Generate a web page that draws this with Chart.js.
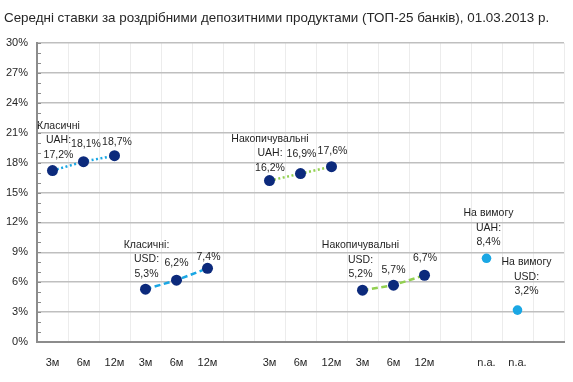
<!DOCTYPE html>
<html>
<head>
<meta charset="utf-8">
<script src="https://cdn.jsdelivr.net/npm/chart.js@4"></script>
<style>
  html, body { margin: 0; padding: 0; background: #fff; }
  #wrap { width: 573px; height: 382px; position: relative; }
</style>
</head>
<body>
<div id="wrap"><canvas id="c" width="573" height="382"></canvas></div>
<script>
// ---- data ----
const title = 'Середні ставки за роздрібними депозитними продуктами (ТОП-25 банків), 01.03.2013 р.';
const categories = ['3м','6м','12м','3м','6м','12м','','3м','6м','12м','3м','6м','12м','','n.a.','n.a.',''];
const yTicks = [0, 3, 6, 9, 12, 15, 18, 21, 24, 27, 30];

const classicUAH = [17.2, 18.1, 18.7];
const classicUSD = [5.3, 6.2, 7.4];
const accumUAH = [16.2, 16.9, 17.6];
const accumUSD = [5.2, 5.7, 6.7];
const demandUAH = [8.4];
const demandUSD = [3.2];

const classicUAHStart = 0, classicUSDStart = 3, accumUAHStart = 7, accumUSDStart = 10, demandUAHStart = 14, demandUSDStart = 15;

const headerClassicUAH = ['Класичні', 'UAH:'];
const headerClassicUSD = ['Класичні:', 'USD:'];
const headerAccumUAH = ['Накопичувальні', 'UAH:'];
const headerAccumUSD = ['Накопичувальні', 'USD:'];
const headerDemandUAH = ['На вимогу', 'UAH:'];
const headerDemandUSD = ['На вимогу', 'USD:'];

// ---- helpers ----
function place(start, values) {
  const arr = categories.map(() => null);
  values.forEach((v, i) => { arr[start + i] = v; });
  return arr;
}
const fmt = v => v.toFixed(1).replace('.', ',') + '%';

const NAVY = '#0c2a7c';
const LBLUE = '#1aa7e4';
const GREEN = '#92d050';

function lineSet(name, start, values, color, dash, header, offsets, markerColor, radius, showLine) {
  return {
    label: name,
    data: place(start, values),
    borderColor: color,
    borderWidth: 2.5,
    borderDash: dash,
    showLine: showLine,
    pointRadius: radius,
    pointHoverRadius: radius,
    pointBackgroundColor: markerColor,
    pointBorderWidth: 0,
    spanGaps: false,
    _header: header,
    _offsets: offsets
  };
}

const datasets = [
  lineSet('Класичні UAH', classicUAHStart, classicUAH, LBLUE, [2, 2.5], headerClassicUAH,
          [[6, -16], [2.5, -17.5], [2.5, -14]], NAVY, 5.5, true),
  lineSet('Класичні USD', classicUSDStart, classicUSD, LBLUE, [6, 3.5], headerClassicUSD,
          [[1, -15.5], [0, -17], [1, -11.5]], NAVY, 5.5, true),
  lineSet('Накопичувальні UAH', accumUAHStart, accumUAH, GREEN, [2, 2.5], headerAccumUAH,
          [[0.5, -12.5], [1, -19.5], [1, -15.5]], NAVY, 5.5, true),
  lineSet('Накопичувальні USD', accumUSDStart, accumUSD, GREEN, [6, 3.5], headerAccumUSD,
          [[-2, -16], [0, -15], [0.5, -17]], NAVY, 5.5, true),
  lineSet('На вимогу UAH', demandUAHStart, demandUAH, LBLUE, [], headerDemandUAH,
          [[2, -16]], LBLUE, 4.8, false),
  lineSet('На вимогу USD', demandUSDStart, demandUSD, LBLUE, [], headerDemandUSD,
          [[9, -19]], LBLUE, 4.8, false)
];

const FONT = '"Liberation Sans", Arial, sans-serif';

const labelPlugin = {
  id: 'pointLabels',
  afterDatasetsDraw(chart) {
    const ctx = chart.ctx;
    ctx.save();
    ctx.font = '10.5px ' + FONT;
    ctx.fillStyle = '#1f1f1f';
    ctx.textAlign = 'center';
    ctx.textBaseline = 'middle';
    const lh = 14.5;
    chart.data.datasets.forEach((ds, di) => {
      const meta = chart.getDatasetMeta(di);
      let k = 0;
      ds.data.forEach((v, i) => {
        if (v === null) return;
        const pt = meta.data[i];
        const off = ds._offsets[k] || [0, -15];
        const cx = pt.x + off[0];
        const cy = pt.y + off[1];
        ctx.fillText(fmt(v), cx, cy);
        if (k === 0) {
          const h = ds._header;
          for (let j = h.length - 1, n = 1; j >= 0; j--, n++) {
            ctx.fillText(h[j], cx, cy - n * lh);
          }
        }
        k++;
      });
    });
    ctx.restore();
  }
};

const minorTicks = {
  id: 'minorTicks',
  afterDraw(chart) {
    const y = chart.scales.y;
    const ctx = chart.ctx;
    ctx.save();
    ctx.strokeStyle = '#8c8c8c';
    ctx.lineWidth = 1;
    for (let v = y.min; v <= y.max; v += 1) {
      const py = Math.round(y.getPixelForValue(v)) + 0.5;
      ctx.beginPath();
      ctx.moveTo(chart.chartArea.left, py);
      ctx.lineTo(chart.chartArea.left + 4, py);
      ctx.stroke();
    }
    ctx.restore();
  }
};

new Chart(document.getElementById('c'), {
  type: 'line',
  data: { labels: categories, datasets: datasets },
  options: {
    responsive: false,
    animation: false,
    layout: { padding: { left: 4, right: 9, top: 0, bottom: 0 } },
    plugins: {
      legend: { display: false },
      tooltip: { enabled: false },
      title: {
        display: true,
        text: title,
        align: 'start',
        color: '#262626',
        font: { family: FONT, size: 13.4, weight: 'normal' },
        padding: { top: 10, bottom: 17 }
      }
    },
    scales: {
      x: {
        type: 'category',
        offset: true,
        grid: { offset: true, color: '#ececec', lineWidth: 1, drawTicks: false },
        border: { color: '#8c8c8c', width: 2 },
        ticks: { color: '#262626', font: { family: FONT, size: 11 }, padding: 14, maxRotation: 0, autoSkip: false },
        afterFit(s) { s.height = 40; }
      },
      y: {
        min: 0,
        max: 30,
        grid: {
          color: c => (c.tick && c.tick.value % 3 === 0) ? '#bfbfbf' : 'rgba(0,0,0,0)',
          lineWidth: 1.5,
          drawTicks: false
        },
        border: { color: '#8c8c8c', width: 2 },
        ticks: {
          stepSize: 1,
          autoSkip: false,
          color: '#262626',
          font: { family: FONT, size: 11 },
          padding: 9,
          callback: v => (yTicks.includes(v) ? v + '%' : '')
        },
        afterFit(s) { s.width = 33; }
      }
    }
  },
  plugins: [labelPlugin, minorTicks]
});
</script>
</body>
</html>
